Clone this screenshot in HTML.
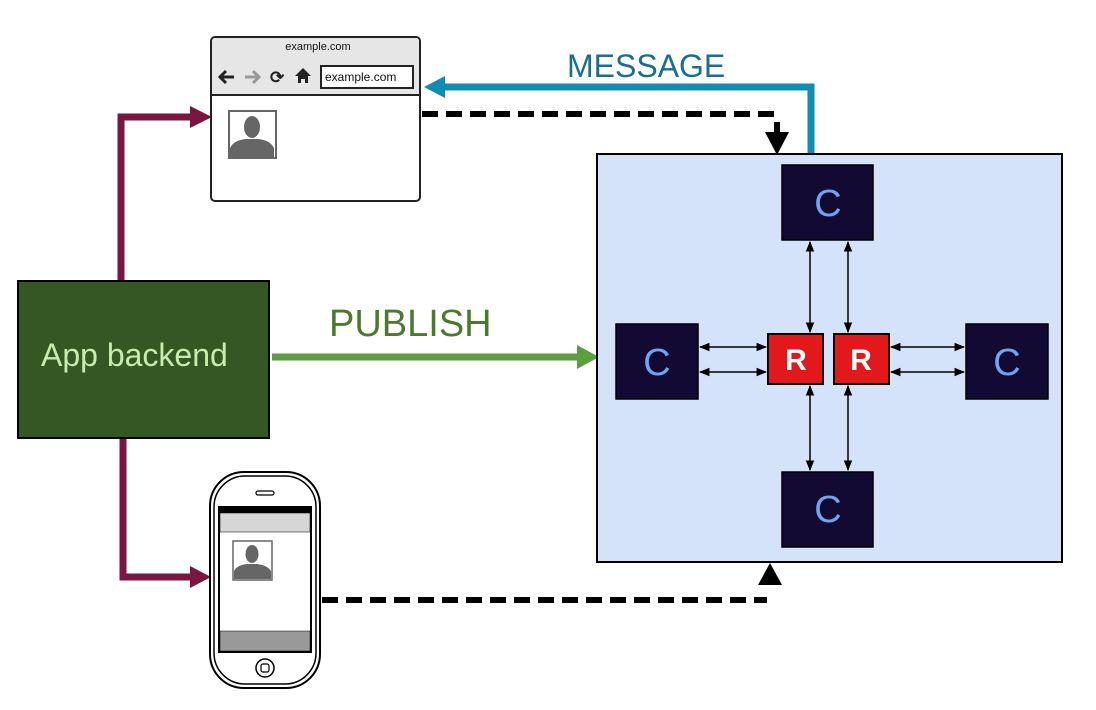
<!DOCTYPE html>
<html><head><meta charset="utf-8"><style>body{margin:0;background:#fff}svg{display:block}</style></head>
<body>
<svg width="1096" height="710" viewBox="0 0 1096 710" xmlns="http://www.w3.org/2000/svg" font-family="Liberation Sans, Arial, sans-serif">
<polyline points="121,281 121,117 192,117" fill="none" stroke="#7a1640" stroke-width="7"/>
<polygon points="190,106 212,117 190,128" fill="#7a1640"/>
<polyline points="123,438 123,577 192,577" fill="none" stroke="#7a1640" stroke-width="7"/>
<polygon points="190,566 211,577 190,588" fill="#7a1640"/>

<rect x="211" y="37" width="209" height="164" rx="4" fill="#fff" stroke="#222" stroke-width="2"/>
<path d="M212,95 V41 a3,3 0 0 1 3,-3 H416 a3,3 0 0 1 3,3 V95 Z" fill="#e6e6e6"/>
<line x1="211" y1="95" x2="420" y2="95" stroke="#222" stroke-width="2"/>
<text x="318" y="50" font-size="11" text-anchor="middle" fill="#111">example.com</text>
<path d="M220,77 h14 M226,71 l-6,6 6,6" fill="none" stroke="#222" stroke-width="3"/>
<path d="M245,77 h14 M253,71 l6,6 -6,6" fill="none" stroke="#999" stroke-width="3"/>
<text x="270" y="83" font-size="17" font-weight="bold" fill="#222">⟳</text>
<path d="M298,83 v-7 h-3 l8,-8 8,8 h-3 v7 h-3 v-4 h-4 v4 z" fill="#222"/>
<rect x="321" y="66" width="92" height="22" fill="#fff" stroke="#222" stroke-width="2"/>
<text x="325" y="81" font-size="12" fill="#111">example.com</text>
<rect x="229" y="111" width="47" height="47" fill="#fff" stroke="#666" stroke-width="2"/>
<ellipse cx="252" cy="127" rx="8" ry="11" fill="#666"/>
<path d="M230,157 V148 q4,-8 16,-9 h12 q12,1 16,9 V157 Z" fill="#666"/>

<line x1="422" y1="114" x2="777" y2="114" stroke="#000" stroke-width="6" stroke-dasharray="16,8"/>
<line x1="777" y1="122" x2="777" y2="134" stroke="#000" stroke-width="6"/>
<polygon points="765,132 789,132 777,155" fill="#000"/>

<polyline points="811,154 811,87 440,87" fill="none" stroke="#0f8db5" stroke-width="7"/>
<polygon points="445,76 424,87 445,98" fill="#0f8db5"/>
<text x="567" y="77" font-size="32" fill="#1a6f90">MESSAGE</text>

<rect x="18" y="281" width="251" height="157" fill="#355723" stroke="#000" stroke-width="2"/>
<text x="41" y="366" font-size="32" fill="#c7ecae">App backend</text>

<line x1="272" y1="357" x2="580" y2="357" stroke="#5d9e40" stroke-width="7"/>
<polygon points="577,345 599,357 577,369" fill="#5d9e40"/>
<text x="329" y="336" font-size="38" fill="#4a7a2e">PUBLISH</text>

<rect x="597" y="154" width="465" height="408" fill="#d4e3fa" stroke="#000" stroke-width="2"/>
<defs>
<marker id="a" viewBox="0 0 10 10" refX="9" refY="5" markerWidth="7" markerHeight="7" orient="auto-start-reverse"><path d="M0,1 L10,5 L0,9 Z" fill="#000"/></marker>
</defs>
<g stroke="#000" stroke-width="1.5" marker-start="url(#a)" marker-end="url(#a)">
<line x1="700" y1="347" x2="766" y2="347"/><line x1="700" y1="372" x2="766" y2="372"/>
<line x1="891" y1="347" x2="964" y2="347"/><line x1="891" y1="372" x2="964" y2="372"/>
<line x1="810" y1="242" x2="810" y2="332"/><line x1="848" y1="242" x2="848" y2="332"/>
<line x1="810" y1="386" x2="810" y2="470"/><line x1="848" y1="386" x2="848" y2="470"/>
</g>
<g fill="#120a33" stroke="#000" stroke-width="1.5">
<rect x="782" y="165" width="91" height="75"/>
<rect x="616" y="324" width="82" height="75"/>
<rect x="966" y="324" width="82" height="75"/>
<rect x="782" y="472" width="91" height="75"/>
</g>
<g fill="#6fa4f0" font-size="38" text-anchor="middle">
<text x="828" y="216">C</text><text x="657" y="375">C</text><text x="1007" y="375">C</text><text x="828" y="522">C</text>
</g>
<g fill="#e3181a" stroke="#000" stroke-width="2">
<rect x="768" y="334" width="55" height="50"/><rect x="834" y="334" width="55" height="50"/>
</g>
<g fill="#fff" font-size="30" font-weight="bold" text-anchor="middle"><text x="796" y="370">R</text><text x="861" y="370">R</text></g>

<rect x="210" y="472" width="110" height="216" rx="34" fill="#fff" stroke="#000" stroke-width="2"/>
<rect x="214" y="476" width="102" height="208" rx="31" fill="none" stroke="#000" stroke-width="1.5"/>
<rect x="256" y="491" width="18" height="4" rx="2" fill="none" stroke="#000" stroke-width="1.2"/>
<rect x="219" y="507" width="92" height="145" fill="#fff" stroke="#000" stroke-width="2"/>
<rect x="219" y="507" width="92" height="6" fill="#000"/>
<rect x="220" y="513" width="90" height="19" fill="#d6d6d6" stroke="#000" stroke-width="0.5"/>
<rect x="220" y="631" width="90" height="20" fill="#999" stroke="#000" stroke-width="0.5"/>
<rect x="233" y="541" width="39" height="39" fill="#fff" stroke="#666" stroke-width="1.5"/>
<ellipse cx="252" cy="554" rx="6.5" ry="9" fill="#666"/>
<path d="M234,579 V571 q3,-6 13,-7 h10 q10,1 14,7 V579 Z" fill="#666"/>
<circle cx="265" cy="668" r="9" fill="#fff" stroke="#000" stroke-width="1.5"/>
<rect x="261" y="664" width="8" height="8" rx="2" fill="none" stroke="#000" stroke-width="1.2"/>

<line x1="322" y1="600" x2="767" y2="600" stroke="#000" stroke-width="6" stroke-dasharray="16,8"/>
<polygon points="770,563 758,585 782,585" fill="#000"/>
</svg>
</body></html>
